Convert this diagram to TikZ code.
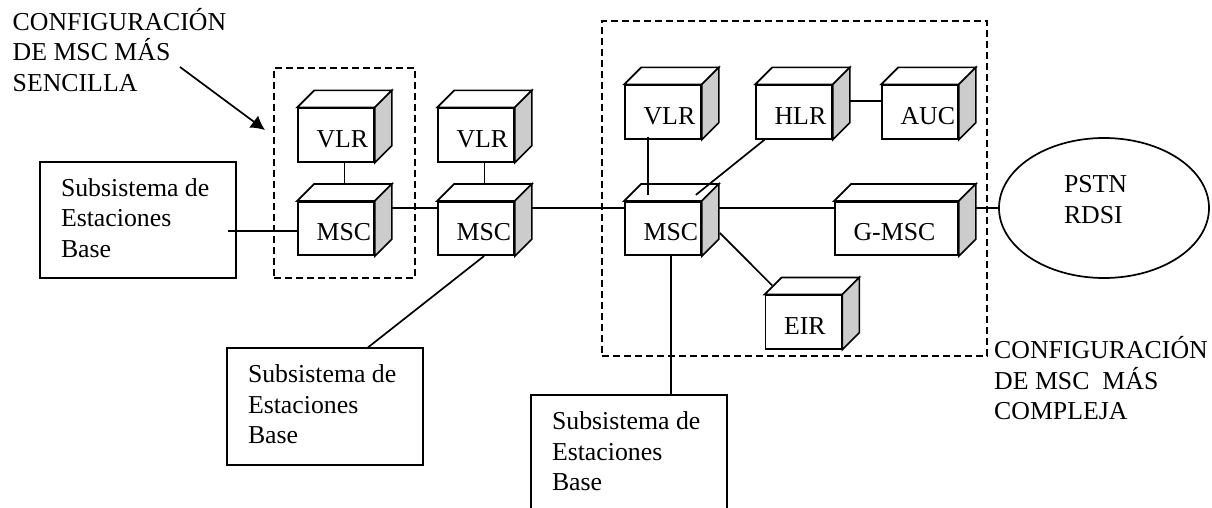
\documentclass[tikz,border=0pt]{standalone}
\usepackage{fontspec}
\setmainfont{Liberation Serif}
\usepackage{xcolor}
\usetikzlibrary{arrows.meta,calc,shapes.geometric}

\tikzset{
	cubebox/.style={rectangle, line width=1.7pt, fill=white, minimum width=76pt, minimum height=53.5pt, text width=76pt, inner sep=0pt, align=left, text height=24.6pt, text depth=0pt, execute at begin node={\hspace*{18.6pt}}, draw},
	basebox/.style={rectangle, line width=1.7pt, fill=white, minimum width=196pt, minimum height=116.5pt, text width=154pt, inner xsep=21pt, inner ysep=0pt, text depth=65pt, align=left, execute at begin node={\spaceskip=.25em\relax}, draw},
	dashbox/.style={rectangle, line width=1.7pt, dash pattern=on 7pt off 4pt, inner sep=0pt, draw},
	notetext/.style={inner sep=0pt, align=left, anchor=north west},
	link/.style={line width=1.7pt}
}

\begin{document}
\begin{tikzpicture}[x=1pt, y=-1pt, font=\fontsize{25.8}{30.4}\selectfont]
\useasboundingbox (0,0) rectangle (1212,508);
\clip (0,0) rectangle (1212,508);

\draw (344.5,173) node[dashbox, minimum width=141pt, minimum height=210pt] (simplearea) {};
\draw (794.5,188.5) node[dashbox, minimum width=385pt, minimum height=335pt] (complexarea) {};

\draw (138,220) node[basebox] (basea) {Subsistema de\\Estaciones\\Base};
\draw (325,406.5) node[basebox] (baseb) {Subsistema de\\Estaciones\\Base};
\draw (629,453.25) node[basebox] (basec) {Subsistema de\\Estaciones\\Base};

\draw (336,135) node[cubebox] (vlra) {VLR};
\draw (336,228.5) node[cubebox] (msca) {MSC};
\draw (476,135) node[cubebox] (vlrb) {VLR};
\draw (476,228.5) node[cubebox] (mscb) {MSC};
\draw (663,112) node[cubebox] (vlrc) {VLR};
\draw (794,112) node[cubebox] (hlr) {HLR};
\draw (920,112) node[cubebox] (auc) {AUC};
\draw (663,228.5) node[cubebox] (mscc) {MSC};
\draw (896.5,228.5) node[cubebox, minimum width=123pt, text width=123pt] (gmsc) {G-MSC};
\draw (803.5,322) node[cubebox] (eir) {EIR};

\foreach \n in {vlra,msca,vlrb,mscb,vlrc,hlr,auc,mscc,gmsc,eir} {
	\draw[link, fill=white] (\n.north west) -- ++(17,-17) -- ($(\n.north east)+(17,-17)$) -- (\n.north east) -- cycle;
	\draw[link, fill=black!20] (\n.north east) -- ++(17,-17) -- ($(\n.south east)+(17,-17)$) -- (\n.south east) -- cycle;
}

\draw (1104,208) node[ellipse, line width=1.7pt, minimum width=210pt, minimum height=140pt, text width=80pt, text depth=47.5pt, inner sep=0pt, align=left, draw] (pstn) {PSTN\\RDSI};

\draw (12.5,8) node[notetext] (notesimple) {CONFIGURACIÓN\\DE MSC MÁS\\SENCILLA};
\draw (994,336.5) node[notetext] (notecomplex) {CONFIGURACIÓN\\DE MSC\ \ MÁS\\COMPLEJA};

\coordinate (arrowstart) at (180,67);
\coordinate (arrowtip) at (265,130);
\draw[-{Latex[length=14pt,width=15pt]}, link] (arrowstart) -- (arrowtip);

\draw[link] ([xshift=8.6pt]vlra.south) -- ([xshift=8.6pt,yshift=17pt]msca.north);
\draw[link] ([xshift=8.6pt]vlrb.south) -- ([xshift=8.6pt,yshift=17pt]mscb.north);
\draw[link] ([xshift=-15pt,yshift=3pt]vlrc.south) -- ([xshift=-15pt,yshift=6pt]mscc.north);

\draw[link] ([xshift=-8.5pt,yshift=-11pt]basea.east) -- ([yshift=-2.5pt]msca.west);
\draw[link] ([xshift=17pt,yshift=20.5pt]msca.east) -- ([yshift=20.5pt]mscb.west);
\draw[link] ([xshift=17pt,yshift=20.5pt]mscb.east) -- ([yshift=20.5pt]mscc.west);
\draw[link] ([xshift=17pt,yshift=20.5pt]mscc.east) -- ([yshift=20.5pt]gmsc.west);
\draw[link] ([xshift=17pt,yshift=20.5pt]gmsc.east) -- (pstn.west);
\draw[link] ([xshift=17pt,yshift=11pt]hlr.east) -- ([yshift=11pt]auc.west);

\draw[link] ([xshift=9.5pt]hlr.south west) -- ([xshift=-6pt,yshift=6pt]mscc.north east);
\draw[link] ([xshift=18pt,yshift=-4.5pt]mscc.east) -- ([xshift=7.5pt,yshift=9pt]eir.north west);
\draw[link] ([xshift=8pt]mscc.south) -- ([xshift=8pt]mscc.south |- basec.north);
\draw[link] ([xshift=8pt]mscb.south) -- ([xshift=43pt]baseb.north);

\end{tikzpicture}
\end{document}
